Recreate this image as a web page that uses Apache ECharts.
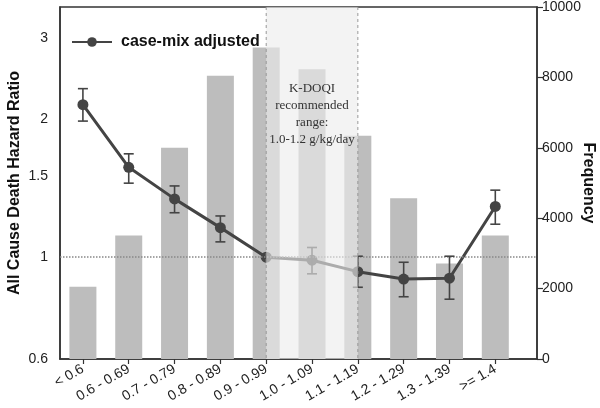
<!DOCTYPE html>
<html><head><meta charset="utf-8">
<script src="https://cdn.jsdelivr.net/npm/echarts@6/dist/echarts.min.js"></script>
<style>html,body{margin:0;padding:0;background:#fff}#c{width:600px;height:408px}</style>
</head><body><div id="c"></div>
<script>
const categories = ['< 0.6','0.6 - 0.69','0.7 - 0.79','0.8 - 0.89','0.9 - 0.99','1.0 - 1.09','1.1 - 1.19','1.2 - 1.29','1.3 - 1.39','>= 1.4'];
const frequency = [2050, 3510, 6000, 8050, 8850, 8230, 6340, 4570, 2710, 3510];
const hazardRatio = [2.15, 1.57, 1.34, 1.16, 1.0, 0.985, 0.93, 0.896, 0.90, 1.29];
const hrLower = [1.98, 1.45, 1.25, 1.08, null, 0.92, 0.86, 0.82, 0.81, 1.18];
const hrUpper = [2.33, 1.68, 1.43, 1.23, null, 1.05, 1.005, 0.975, 1.005, 1.40];
const hrTicks = [0.6, 1, 1.5, 2, 3];
const rangeStart = 4, rangeEnd = 6; // category indices bounding K-DOQI range
const rangeText = 'K-DOQI\nrecommended\nrange:\n1.0-1.2 g/kg/day';

const pos = categories.map((c, i) => i + 0.5);
const font = 'Liberation Sans, Arial, sans-serif';
const chart = echarts.init(document.getElementById('c'));
chart.setOption({
  animation: false,
  backgroundColor: '#fff',
  grid: { left: 60, right: 63, top: 7, bottom: 49, containLabel: false, outerBoundsMode: 'none',
    show: true, borderColor: '#333', borderWidth: 1.5, backgroundColor: 'transparent' },
  legend: {
    data: ['case-mix adjusted'], left: 66, top: 29, itemWidth: 40, itemHeight: 12,
    textStyle: { fontFamily: font, fontWeight: 'bold', fontSize: 16, color: '#111', padding: [0,0,0,4] }
  },
  xAxis: {
    type: 'value', min: 0, max: 10.41,
    axisLine: { show: true, lineStyle: { color: '#333', width: 1.5 } },
    axisTick: { show: true, customValues: pos, length: 5, lineStyle: { color: '#333', width: 1.2 } },
    axisLabel: { customValues: pos, rotate: 30, fontFamily: font, fontSize: 14, color: '#222', margin: 9,
      formatter: v => categories[Math.round(v - 0.5)] },
    splitLine: { show: false }
  },
  yAxis: [
    { type: 'log', min: 0.6, max: 3.51, logBase: 10,
      name: 'All Cause Death Hazard Ratio', nameLocation: 'middle', nameGap: 37, nameMoveOverlap: false,
      nameTextStyle: { fontFamily: font, fontWeight: 'bold', fontSize: 16, color: '#111' },
      axisLine: { show: true, lineStyle: { color: '#333', width: 1.5 } },
      axisTick: { show: false, customValues: hrTicks },
      axisLabel: { customValues: hrTicks, fontFamily: font, fontSize: 14, color: '#222', margin: 12 },
      splitLine: { show: false } },
    { type: 'value', min: 0, max: 10000, interval: 2000, position: 'right',
      name: 'Frequency', nameLocation: 'middle', nameGap: 43, nameRotate: -90, nameMoveOverlap: false,
      nameTextStyle: { fontFamily: font, fontWeight: 'bold', fontSize: 16, color: '#111' },
      axisLine: { show: true, lineStyle: { color: '#333', width: 1.5 } },
      axisTick: { show: true, length: 6, lineStyle: { color: '#333', width: 1.2 } },
      axisLabel: { fontFamily: font, fontSize: 14, color: '#222', margin: 5, formatter: v => String(v) },
      splitLine: { show: false } }
  ],
  series: [
    { type: 'bar', name: 'Frequency', yAxisIndex: 1, barWidth: 27, z: 1,
      itemStyle: { color: '#bdbdbd' },
      data: frequency.map((v, i) => [pos[i], v]) },
    { type: 'line', name: 'case-mix adjusted', yAxisIndex: 0, z: 4,
      symbol: 'circle', symbolSize: 11,
      lineStyle: { color: '#444', width: 3 }, itemStyle: { color: '#444' },
      data: hazardRatio.map((v, i) => [pos[i], v]),
      markLine: { silent: true, symbol: 'none', label: { show: false },
        lineStyle: { color: '#888', type: 'dotted', width: 1.5 },
        data: [ { yAxis: 1 } ] } },
    { type: 'custom', name: 'CI', yAxisIndex: 0, z: 5,
      data: hrLower.map((v, i) => [pos[i], v, hrUpper[i]]).filter(d => d[1] != null),
      renderItem: (params, api) => {
        const lo = api.coord([api.value(0), api.value(1)]);
        const hi = api.coord([api.value(0), api.value(2)]);
        const w = 5;
        const st = { stroke: '#444', lineWidth: 1.6 };
        return { type: 'group', children: [
          { type: 'line', shape: { x1: lo[0], y1: lo[1], x2: hi[0], y2: hi[1] }, style: st },
          { type: 'line', shape: { x1: lo[0]-w, y1: lo[1], x2: lo[0]+w, y2: lo[1] }, style: st },
          { type: 'line', shape: { x1: hi[0]-w, y1: hi[1], x2: hi[0]+w, y2: hi[1] }, style: st }
        ]};
      } },
    { type: 'custom', name: 'range', yAxisIndex: 0, z: 20,
      data: [[pos[rangeStart], pos[rangeEnd]]],
      renderItem: (params, api) => {
        const cs = params.coordSys;
        const a = api.coord([api.value(0), 1])[0];
        const b = api.coord([api.value(1), 1])[0];
        const dash = { stroke: '#999', lineWidth: 1, lineDash: [3, 3] };
        return { type: 'group', children: [
          { type: 'rect', shape: { x: a, y: cs.y, width: b - a, height: cs.height },
            style: { fill: 'rgba(236,236,236,0.62)' } },
          { type: 'line', shape: { x1: a, y1: cs.y, x2: a, y2: cs.y + cs.height }, style: dash },
          { type: 'line', shape: { x1: b, y1: cs.y, x2: b, y2: cs.y + cs.height }, style: dash },
          { type: 'text', x: (a + b) / 2, y: 80,
            style: { text: rangeText, align: 'center', verticalAlign: 'top',
              font: '13px "Liberation Serif", "Times New Roman", serif', lineHeight: 17, fill: '#333' } }
        ]};
      } }
  ]
});
</script></body></html>
